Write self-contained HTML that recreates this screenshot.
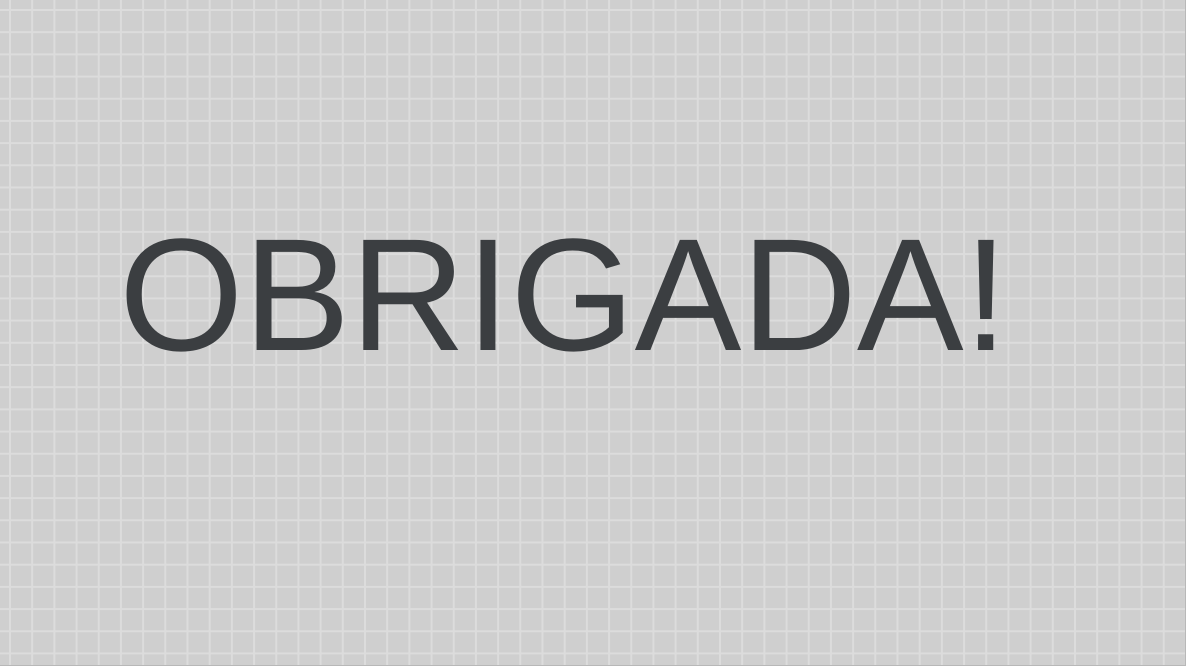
<!DOCTYPE html>
<html><head><meta charset="utf-8"><style>
html,body{margin:0;padding:0}
body{width:1186px;height:666px;overflow:hidden;background-color:#cfcfcf;
background-image:linear-gradient(to right,#dcdcdc 0,#dcdcdc 2px,transparent 2px),linear-gradient(to bottom,#dcdcdc 0,#dcdcdc 2px,transparent 2px);
background-size:22.2px 22.2px;background-position:9px 9px;position:relative;
box-sizing:border-box;border-right:1px solid #b8b8b8;border-bottom:1px solid #b8b8b8}
#title{position:absolute;left:119px;top:205px;margin:0;font-family:"Liberation Sans",Arial,sans-serif;font-weight:normal;font-size:160px;line-height:180px;color:#3b3e41;white-space:nowrap;letter-spacing:0}
</style></head><body>
<h1 id="title">OBRIGADA!</h1>
</body></html>
